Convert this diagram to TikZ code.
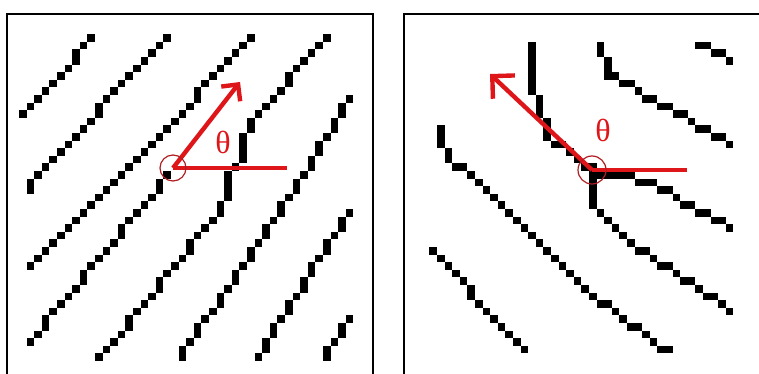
\documentclass[tikz,border=0pt]{standalone}
\usepackage{fontspec}
\setmainfont{Liberation Serif}
\usetikzlibrary{arrows.meta,decorations.markings}
\definecolor{dohuong}{RGB}{222,22,26}
\definecolor{dotam}{RGB}{175,30,35}
% o vuong bam theo luoi 7.6pt (kieu Bresenham)
\newcommand{\opixel}{%
    \pgfgettransformentries{\ma}{\mb}{\mc}{\md}{\mx}{\my}%
    \pgfmathparse{abs(\ma)>=abs(\mb)}%
    \ifdim\pgfmathresult pt>0.5pt
        \pgfmathsetmacro\gx{round(\mx/7.6)*7.6}%
        \pgfmathsetmacro\gy{round((\my+(\gx-\mx)*\mb/\ma)/7.6)*7.6}%
    \else
        \pgfmathsetmacro\gy{round(\my/7.6)*7.6}%
        \pgfmathsetmacro\gx{round((\mx+(\gy-\my)*\ma/\mb)/7.6)*7.6}%
    \fi
    \pgftransformreset
    \fill[black] (\gx pt-3.8pt,\gy pt-3.8pt) rectangle ++(7.6pt,7.6pt);}
\tikzset{
    khung/.style={line width=2.4pt},
    vantay/.style={decorate, decoration={markings,
        mark=between positions 0 and 1 step 3pt with {\opixel}}},
    huong/.style={dohuong, line width=4.4pt},
    tam/.style={dotam, line width=1.2pt},
    goc/.style={text=dohuong, inner sep=0pt, font=\fontsize{32}{32}\selectfont},
}
\begin{document}
\begin{tikzpicture}[x=1pt, y=-1pt]
    \clip (0,0) rectangle (759,374);

    % 1. Khung hai hinh
    \draw[khung] (7,380) -- (7,14) -- (373,14) -- (373,380);
    \draw[khung] (404,380) -- (404,14) -- (770,14);

    % 2. Van tay ben trai (duong xien)
    \begin{scope}
        \draw[vantay] (28,112) -- (97,33);
        \draw[vantay] (30,187) -- (168,33);
        \draw[vantay] (29,268) -- (255,36);
        \draw[vantay] (28,345) -- (173,170);
        \draw[vantay] (102,357) -- (231,195) -- (231,172) -- (245,158) -- (246,132) -- (325,36);
        \draw[vantay] (180,358) -- (293,193) -- (350,97);
        \draw[vantay] (258,358) -- (350,210);
        \draw[vantay] (325,358) -- (350,318);
    \end{scope}

    % 3. Van tay ben phai (duong cong xuong)
    \begin{scope}
        \draw[vantay] (532,43) -- (533,84) -- (550,137) -- (590,168) -- (593,207) -- (625,240) -- (730,310);
        \draw[vantay] (603,43) -- (605,72) -- (657,103) -- (730,143);
        \draw[vantay] (697,42) -- (730,60);
        \draw[vantay] (593,170) -- (650,182) -- (728,227);
        \draw[vantay] (437,127) -- (447,155) -- (523,227) -- (590,293) -- (667,352);
        \draw[vantay] (433,250) -- (523,350);
    \end{scope}

    % 4. Huong va goc theta
    \coordinate (tamT) at (173,168);
    \coordinate (dauT) at (240,82);
    \coordinate (cuoiT) at (287,168);
    \draw[huong] (tamT) -- (cuoiT);
    \draw[huong, -{Straight Barb[length=12pt, width=24pt]}] (tamT) -- (dauT);
    \draw[tam] (tamT) circle (13pt);
    \node[goc] (thetaT) at (223,142) {θ};

    \coordinate (tamP) at (592,170);
    \coordinate (dauP) at (490,74);
    \coordinate (cuoiP) at (687,170);
    \draw[huong] (tamP) -- (cuoiP);
    \draw[huong, -{Straight Barb[length=16pt, width=32pt]}] (tamP) -- (dauP);
    \draw[tam] (tamP) circle (14pt);
    \node[goc] (thetaP) at (603,130) {θ};
\end{tikzpicture}
\end{document}
